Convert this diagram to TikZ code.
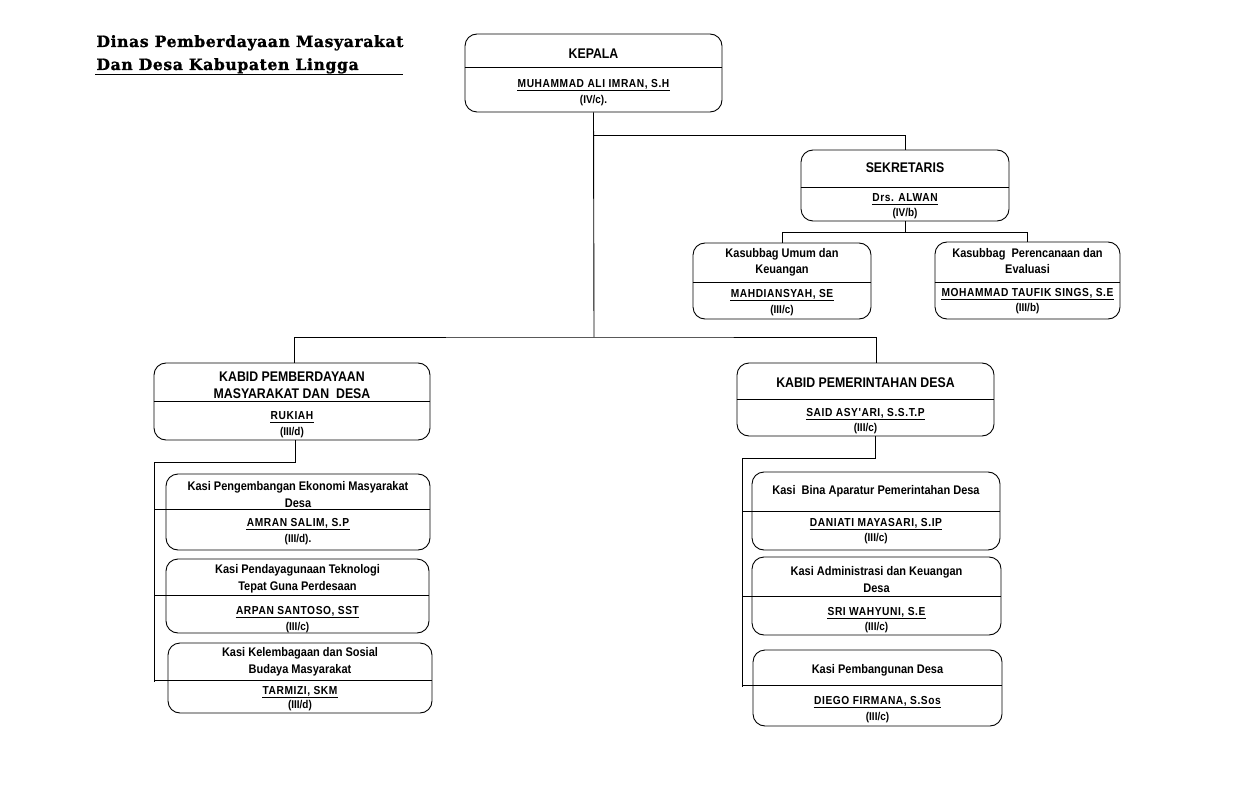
\documentclass[tikz,border=0pt]{standalone}
\usepackage{fontspec}
\usepackage{tikz}
\setmainfont{Liberation Sans}
\newfontfamily\boxfont[FakeStretch=0.88]{Liberation Sans}
\newfontfamily\namefont[FakeStretch=0.88,LetterSpace=5]{Liberation Sans}
\newfontfamily\titlefont[LetterSpace=4,FakeBold=1.2]{DejaVu Serif}

\tikzset{
  unit/.style = {draw, rounded corners = 12pt, inner sep = 0pt},
  head/.style = {inner sep = 0pt, align = center, font = \boxfont\bfseries\fontsize{14}{17}\selectfont},
  sub/.style = {inner sep = 0pt, align = center, font = \boxfont\bfseries\fontsize{12.5}{16.5}\selectfont},
  person/.style = {inner sep = 0pt, text height = 8.5pt, text depth = 0pt,
    font = \namefont\bfseries\fontsize{11.6}{13}\selectfont,
    append after command = {([yshift = -2.6pt]\tikzlastnode.south west) edge[line width = 1.4pt] ([yshift = -2.6pt]\tikzlastnode.south east)}},
  grade/.style = {inner sep = 0pt, text height = 8pt, text depth = 0pt, font = \boxfont\bfseries\fontsize{11.3}{13}\selectfont},
  heading/.style = {anchor = base west, inner sep = 0pt, font = \titlefont\bfseries\fontsize{15.6}{18}\selectfont}
}

\begin{document}
\begin{tikzpicture}[x = 1pt, y = -1pt, line width = 0.9pt]
\fill[white] (0, 0) rectangle (1247, 794);
\useasboundingbox (0, 0) rectangle (1247, 794);

% title
\node[heading] (title1) at (96, 47) {Dinas Pemberdayaan Masyarakat};
\node[heading] (title2) at (96, 70) {Dan Desa Kabupaten Lingga};
\draw (95, 74) -- (403, 74);

% kepala
\node[unit, minimum width = 257, minimum height = 78] (kepala) at (593.5, 73) {};
\draw (kepala.west |- 0, 67) -- (kepala.east |- 0, 67);
\node[head] (kepala-t) at (593.5, 53.5) {KEPALA};
\node[person] (kepala-n) at (593.5, 83) {MUHAMMAD ALI IMRAN, S.H};
\node[grade] (kepala-g) at (593.5, 100) {(IV/c).};

% sekretaris
\node[unit, minimum width = 208, minimum height = 71] (sekretaris) at (905, 185.5) {};
\draw (sekretaris.west |- 0, 187) -- (sekretaris.east |- 0, 187);
\node[head] (sekretaris-t) at (905, 168) {SEKRETARIS};
\node[person] (sekretaris-n) at (905, 197) {Drs. ALWAN};
\node[grade] (sekretaris-g) at (905, 213) {(IV/b)};

% kasubbag
\node[unit, minimum width = 178, minimum height = 76] (umum) at (782, 281) {};
\draw (umum.west |- 0, 282) -- (umum.east |- 0, 282);
\node[sub] (umum-t) at (782, 262.5) {Kasubbag Umum dan\\Keuangan};
\node[person] (umum-n) at (782, 293) {MAHDIANSYAH, SE};
\node[grade] (umum-g) at (782, 309) {(III/c)};

\node[unit, minimum width = 185, minimum height = 77] (renc) at (1027.5, 280.5) {};
\draw (renc.west |- 0, 282) -- (renc.east |- 0, 282);
\node[sub] (renc-t) at (1027.5, 261) {Kasubbag\ \ Perencanaan dan\\Evaluasi};
\node[person] (renc-n) at (1027.5, 292) {MOHAMMAD TAUFIK SINGS, S.E};
\node[grade] (renc-g) at (1027.5, 308) {(III/b)};

% kabid
\node[unit, minimum width = 276, minimum height = 77] (pmd) at (292, 401.5) {};
\draw (pmd.west |- 0, 401) -- (pmd.east |- 0, 401);
\node[head] (pmd-t) at (292, 385) {KABID PEMBERDAYAAN\\MASYARAKAT DAN\ \ DESA};
\node[person] (pmd-n) at (292, 415) {RUKIAH};
\node[grade] (pmd-g) at (292, 431) {(III/d)};

\node[unit, minimum width = 257, minimum height = 73] (pemdes) at (865.5, 399.5) {};
\draw (pemdes.west |- 0, 399) -- (pemdes.east |- 0, 399);
\node[head] (pemdes-t) at (865.5, 383) {KABID PEMERINTAHAN DESA};
\node[person] (pemdes-n) at (865.5, 412) {SAID ASY'ARI, S.S.T.P};
\node[grade] (pemdes-g) at (865.5, 427) {(III/c)};

% kasi under pmd
\node[unit, minimum width = 264, minimum height = 76] (kasiA) at (298, 512) {};
\node[sub] (kasiA-t) at (298, 494.5) {Kasi Pengembangan Ekonomi Masyarakat\\Desa};
\node[person] (kasiA-n) at (298, 522) {AMRAN SALIM, S.P};
\node[grade] (kasiA-g) at (298, 538) {(III/d).};

\node[unit, minimum width = 263, minimum height = 74] (kasiB) at (297.5, 596) {};
\node[sub] (kasiB-t) at (297.5, 579) {Kasi Pendayagunaan Teknologi\\Tepat Guna Perdesaan};
\node[person] (kasiB-n) at (297.5, 610) {ARPAN SANTOSO, SST};
\node[grade] (kasiB-g) at (297.5, 626) {(III/c)};

\node[unit, minimum width = 264, minimum height = 70] (kasiC) at (300, 678) {};
\node[sub] (kasiC-t) at (300, 662) {Kasi Kelembagaan dan Sosial\\Budaya Masyarakat};
\node[person] (kasiC-n) at (300, 690) {TARMIZI, SKM};
\node[grade] (kasiC-g) at (300, 704) {(III/d)};

% kasi under pemdes
\node[unit, minimum width = 248, minimum height = 78] (kasiD) at (876, 511) {};
\node[sub] (kasiD-t) at (876, 491) {Kasi\ \ Bina Aparatur Pemerintahan Desa};
\node[person] (kasiD-n) at (876, 522) {DANIATI MAYASARI, S.IP};
\node[grade] (kasiD-g) at (876, 537) {(III/c)};

\node[unit, minimum width = 249, minimum height = 78] (kasiE) at (876.5, 596) {};
\node[sub] (kasiE-t) at (876.5, 579.5) {Kasi Administrasi dan Keuangan\\Desa};
\node[person] (kasiE-n) at (876.5, 611) {SRI WAHYUNI, S.E};
\node[grade] (kasiE-g) at (876.5, 626) {(III/c)};

\node[unit, minimum width = 249, minimum height = 76] (kasiF) at (877.5, 688) {};
\node[sub] (kasiF-t) at (877.5, 670) {Kasi Pembangunan Desa};
\node[person] (kasiF-n) at (877.5, 700) {DIEGO FIRMANA, S.Sos};
\node[grade] (kasiF-g) at (877.5, 716) {(III/c)};

% connectors
\coordinate (midbus) at (594, 337);
\draw (kepala.south) -- (midbus);
\draw (kepala.south) ++(0, 23) -| (sekretaris.north);
\draw (sekretaris.south) -- ++(0, 11) coordinate (sbus);
\draw (umum.north) |- (sbus) -| (renc.north);
\draw ([xshift = 2pt]pmd.north) |- (midbus) -| ([xshift = 11pt]pemdes.north);

\coordinate (lbus) at (154, 462);
\coordinate (lbusend) at (154, 682);
\draw ([xshift = 3pt]pmd.south) |- (lbus) -- (lbusend);
\draw (lbus |- 0, 509) -- (kasiA.east |- 0, 509);
\draw (lbus |- 0, 595) -- (kasiB.east |- 0, 595);
\draw (lbus |- 0, 680) -- (kasiC.east |- 0, 680);

\coordinate (rbus) at (742, 458);
\coordinate (rbusend) at (742, 687);
\draw ([xshift = 10pt]pemdes.south) |- (rbus) -- (rbusend);
\draw (rbus |- 0, 511) -- (kasiD.east |- 0, 511);
\draw (rbus |- 0, 596) -- (kasiE.east |- 0, 596);
\draw (rbus |- 0, 685) -- (kasiF.east |- 0, 685);

\end{tikzpicture}
\end{document}
